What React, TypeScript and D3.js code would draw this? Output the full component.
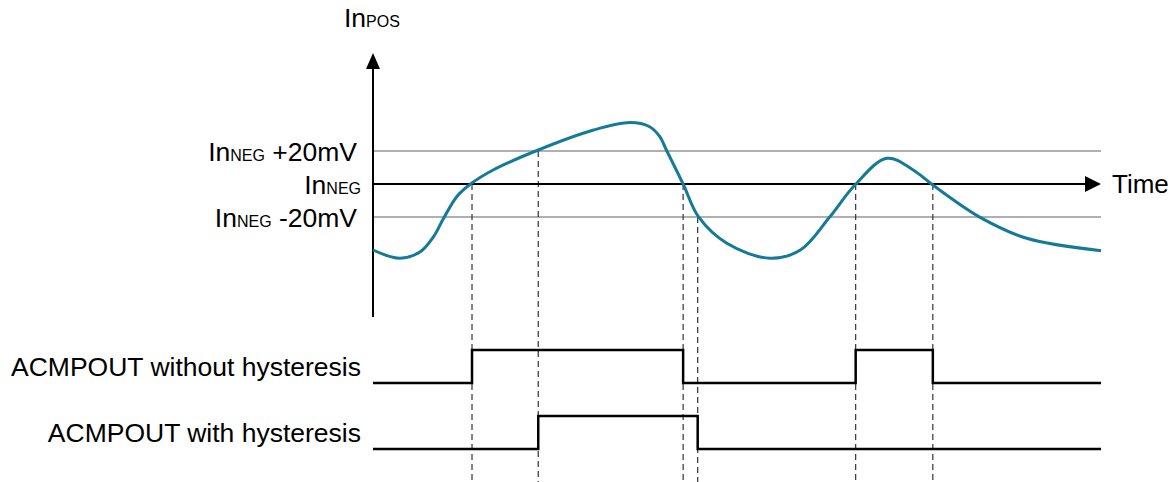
import React from "react";
import * as d3 from "d3";

// Analog input (InPOS) samples: time (0..100) and voltage relative to InNEG (mV)
const curveTime = [0, 3.7, 6.5, 8.3, 9.7, 11.5, 13.4, 16.5, 22.7, 30.3, 35.3, 38.0, 39.4, 40.3, 42.6, 44.7, 48.6, 54.5, 58.7, 62.7, 66.2, 70.6, 74.2, 76.9, 83.4, 89.8, 100];
const curveMv = [-40, -45, -41, -32, -20.8, -7.7, 0, 8.5, 20.6, 32.7, 37.2, 34.7, 28.7, 20.6, 0, -19.8, -35.9, -45, -40, -20.2, -0.6, 15.6, 8.5, -0.6, -20.2, -32.9, -40.4];

// Threshold levels (mV relative to InNEG)
const thresholdLevels = [20, 0, -20];
const thresholdMain = ["In", "In", "In"];
const thresholdSub = ["NEG", "NEG", "NEG"];
const thresholdSuffix = [" +20mV", "", " -20mV"];

// Switching instants (time units)
const switchTimes = [13.6, 22.7, 42.6, 44.6, 66.3, 76.9];
const switchLevels = [0, 20, 0, -20, 0, 0];

// Digital outputs: edge times and states
const outNoHystTimes = [0, 13.6, 42.6, 66.3, 76.9, 100];
const outNoHystStates = [0, 1, 0, 1, 0, 0];
const outHystTimes = [0, 22.7, 44.6, 100];
const outHystStates = [0, 1, 0, 0];

const outLabels = ["ACMPOUT without hysteresis", "ACMPOUT with hysteresis"];

const FONT = "'Liberation Sans', Arial, sans-serif";

export default function App() {
  const W = 1176, H = 482;
  const x = d3.scaleLinear().domain([0, 100]).range([373, 1101]);
  const y = d3.scaleLinear().domain([-20, 20]).range([217, 151]);
  const axisX = 373;
  const axisTop = 53;
  const axisBottom = 317;

  const pts: [number, number][] = curveTime.map((t, i) => [t, curveMv[i]]);
  const line = d3
    .line<[number, number]>()
    .x((d) => x(d[0]))
    .y((d) => y(d[1]))
    .curve(d3.curveCatmullRom.alpha(0.5));

  const digitalY = [
    d3.scaleLinear().domain([0, 1]).range([383, 350]),
    d3.scaleLinear().domain([0, 1]).range([449, 416]),
  ];
  const stepLine = (times: number[], states: number[], ys: d3.ScaleLinear<number, number>) =>
    d3
      .line<number>()
      .x((_, i) => x(times[i]))
      .y((_, i) => ys(states[i]))
      .curve(d3.curveStepAfter)(times) as string;

  const fs = 26.5;
  const subFs = 16;

  return (
    <svg
      width={W}
      height={H}
      style={{ position: "absolute", left: 0, top: 0, background: "#fff" }}
      fontFamily={FONT}
    >
      {/* threshold lines */}
      {thresholdLevels.map((lv, i) =>
        lv === 0 ? null : (
          <line key={"g" + i} x1={axisX} x2={x(100)} y1={y(lv)} y2={y(lv)} stroke="#b0b0b0" strokeWidth={2} />
        )
      )}
      {/* dashed switch markers */}
      {switchTimes.map((t, i) => (
        <line
          key={"d" + i}
          x1={x(t)}
          x2={x(t)}
          y1={y(switchLevels[i])}
          y2={H}
          stroke="#333"
          strokeWidth={1.2}
          strokeDasharray="6,4"
        />
      ))}
      {/* time axis (InNEG) */}
      <line x1={axisX} x2={x(100) - 14} y1={y(0)} y2={y(0)} stroke="#000" strokeWidth={2} />
      <path d={`M${x(100)},${y(0)} L${x(100) - 16},${y(0) - 8} L${x(100) - 16},${y(0) + 8} Z`} fill="#000" />
      {/* vertical axis */}
      <line x1={axisX} x2={axisX} y1={axisBottom} y2={axisTop + 14} stroke="#000" strokeWidth={2} />
      <path d={`M${axisX},${axisTop} L${axisX - 7},${axisTop + 16} L${axisX + 7},${axisTop + 16} Z`} fill="#000" />
      {/* analog curve */}
      <path d={line(pts) as string} fill="none" stroke="#137b97" strokeWidth={3} />
      {/* digital outputs */}
      <path d={stepLine(outNoHystTimes, outNoHystStates, digitalY[0])} fill="none" stroke="#000" strokeWidth={2.5} />
      <path d={stepLine(outHystTimes, outHystStates, digitalY[1])} fill="none" stroke="#000" strokeWidth={2.5} />

      {/* labels */}
      <text x={344} y={27} fontSize={fs} fill="#000">
        In<tspan fontSize={subFs}>POS</tspan>
      </text>
      {thresholdLevels.map((lv, i) => (
        <text
          key={"t" + i}
          x={lv === 0 ? 361 : 357}
          y={y(lv) + 9.5}
          fontSize={fs}
          textAnchor="end"
          fill="#000"
        >
          {thresholdMain[i]}
          <tspan fontSize={subFs}>{thresholdSub[i]}</tspan>
          {thresholdSuffix[i]}
        </text>
      ))}
      <text x={1112} y={193} fontSize={26} fill="#000">
        Time
      </text>
      {outLabels.map((l, i) => (
        <text key={"o" + i} x={361} y={(digitalY[i](0) + digitalY[i](1)) / 2 + 9.5} fontSize={fs} textAnchor="end" fill="#000">
          {l}
        </text>
      ))}
    </svg>
  );
}
